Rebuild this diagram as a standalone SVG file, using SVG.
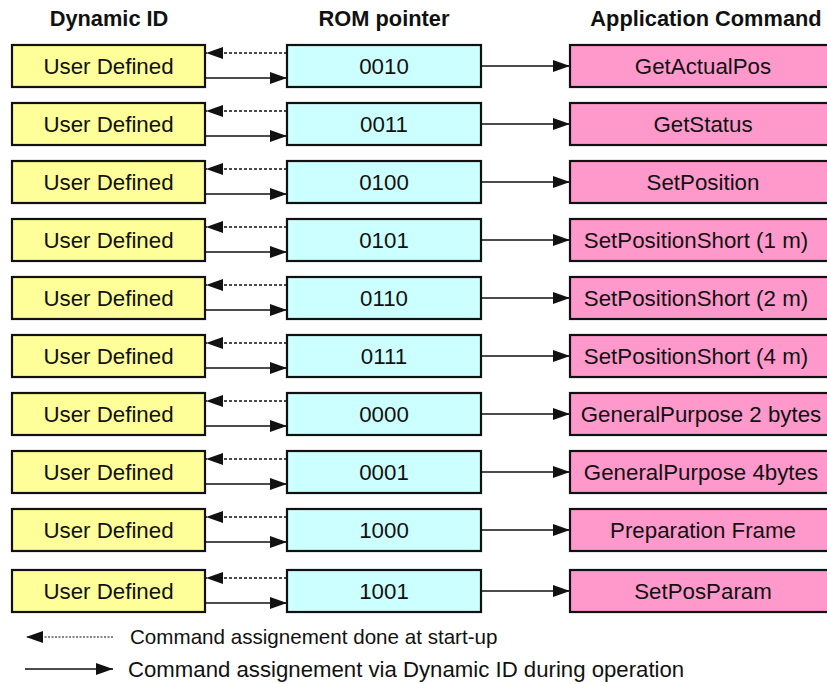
<svg xmlns="http://www.w3.org/2000/svg" width="827" height="684" viewBox="0 0 827 684">
<style>
text{font-family:"Liberation Sans",Arial,sans-serif;fill:#111;}
.hdr{font-size:21.8px;font-weight:bold;text-anchor:middle;}
.lbl{font-size:22.3px;text-anchor:middle;}
.leg{font-size:20.6px;}
.y{fill:#FFFF99;stroke:#111;stroke-width:2.2;}
.c{fill:#CCFFFF;stroke:#111;stroke-width:2.2;}
.p{fill:#FF99CC;stroke:#111;stroke-width:2.2;}
.s{stroke:#111;stroke-width:1.5;fill:none;marker-end:url(#ah);}
.d{stroke:#111;stroke-width:1.5;fill:none;stroke-dasharray:3 2;marker-end:url(#ah);}
</style>
<defs>
<marker id="ah" markerUnits="userSpaceOnUse" markerWidth="17" markerHeight="12" refX="17" refY="6" orient="auto">
<path d="M0,0 L17,6 L0,12 z" fill="#111"/>
</marker>
</defs>
<g id="headers">
<text class="hdr" x="109" y="26">Dynamic ID</text>
<text class="hdr" x="384" y="26">ROM pointer</text>
<text class="hdr" x="706" y="26">Application Command</text>
</g>
<g id="row1"><rect class="y" x="12" y="45" width="193" height="42"/><text class="lbl" x="108.5" y="74">User Defined</text><rect class="c" x="287" y="45" width="194" height="42"/><text class="lbl" x="384" y="74">0010</text><rect class="p" x="570" y="45" width="270" height="42"/><text class="lbl" x="703" y="74">GetActualPos</text></g>
<g id="row2"><rect class="y" x="12" y="103" width="193" height="42"/><text class="lbl" x="108.5" y="132">User Defined</text><rect class="c" x="287" y="103" width="194" height="42"/><text class="lbl" x="384" y="132">0011</text><rect class="p" x="570" y="103" width="270" height="42"/><text class="lbl" x="703" y="132">GetStatus</text></g>
<g id="row3"><rect class="y" x="12" y="161" width="193" height="42"/><text class="lbl" x="108.5" y="190">User Defined</text><rect class="c" x="287" y="161" width="194" height="42"/><text class="lbl" x="384" y="190">0100</text><rect class="p" x="570" y="161" width="270" height="42"/><text class="lbl" x="703" y="190">SetPosition</text></g>
<g id="row4"><rect class="y" x="12" y="219" width="193" height="42"/><text class="lbl" x="108.5" y="248">User Defined</text><rect class="c" x="287" y="219" width="194" height="42"/><text class="lbl" x="384" y="248">0101</text><rect class="p" x="570" y="219" width="270" height="42"/><text class="lbl" x="696" y="248">SetPositionShort (1 m)</text></g>
<g id="row5"><rect class="y" x="12" y="277" width="193" height="42"/><text class="lbl" x="108.5" y="306">User Defined</text><rect class="c" x="287" y="277" width="194" height="42"/><text class="lbl" x="384" y="306">0110</text><rect class="p" x="570" y="277" width="270" height="42"/><text class="lbl" x="696" y="306">SetPositionShort (2 m)</text></g>
<g id="row6"><rect class="y" x="12" y="335" width="193" height="42"/><text class="lbl" x="108.5" y="364">User Defined</text><rect class="c" x="287" y="335" width="194" height="42"/><text class="lbl" x="384" y="364">0111</text><rect class="p" x="570" y="335" width="270" height="42"/><text class="lbl" x="696" y="364">SetPositionShort (4 m)</text></g>
<g id="row7"><rect class="y" x="12" y="393" width="193" height="42"/><text class="lbl" x="108.5" y="422">User Defined</text><rect class="c" x="287" y="393" width="194" height="42"/><text class="lbl" x="384" y="422">0000</text><rect class="p" x="570" y="393" width="270" height="42"/><text class="lbl" x="701" y="422">GeneralPurpose 2 bytes</text></g>
<g id="row8"><rect class="y" x="12" y="451" width="193" height="42"/><text class="lbl" x="108.5" y="480">User Defined</text><rect class="c" x="287" y="451" width="194" height="42"/><text class="lbl" x="384" y="480">0001</text><rect class="p" x="570" y="451" width="270" height="42"/><text class="lbl" x="701" y="480">GeneralPurpose 4bytes</text></g>
<g id="row9"><rect class="y" x="12" y="509" width="193" height="42"/><text class="lbl" x="108.5" y="538">User Defined</text><rect class="c" x="287" y="509" width="194" height="42"/><text class="lbl" x="384" y="538">1000</text><rect class="p" x="570" y="509" width="270" height="42"/><text class="lbl" x="703" y="538">Preparation Frame</text></g>
<g id="row10"><rect class="y" x="12" y="570" width="193" height="42"/><text class="lbl" x="108.5" y="599">User Defined</text><rect class="c" x="287" y="570" width="194" height="42"/><text class="lbl" x="384" y="599">1001</text><rect class="p" x="570" y="570" width="270" height="42"/><text class="lbl" x="703" y="599">SetPosParam</text></g>
<g id="connectors">
<path class="d" d="M287,53 H206"/><path class="s" d="M205,78 H287"/><path class="s" d="M481,66 H570"/>
<path class="d" d="M287,111 H206"/><path class="s" d="M205,136 H287"/><path class="s" d="M481,124 H570"/>
<path class="d" d="M287,169 H206"/><path class="s" d="M205,194 H287"/><path class="s" d="M481,182 H570"/>
<path class="d" d="M287,227 H206"/><path class="s" d="M205,252 H287"/><path class="s" d="M481,240 H570"/>
<path class="d" d="M287,285 H206"/><path class="s" d="M205,310 H287"/><path class="s" d="M481,298 H570"/>
<path class="d" d="M287,343 H206"/><path class="s" d="M205,368 H287"/><path class="s" d="M481,356 H570"/>
<path class="d" d="M287,401 H206"/><path class="s" d="M205,426 H287"/><path class="s" d="M481,414 H570"/>
<path class="d" d="M287,459 H206"/><path class="s" d="M205,484 H287"/><path class="s" d="M481,472 H570"/>
<path class="d" d="M287,517 H206"/><path class="s" d="M205,542 H287"/><path class="s" d="M481,530 H570"/>
<path class="d" d="M287,578 H206"/><path class="s" d="M205,603 H287"/><path class="s" d="M481,591 H570"/>
</g>
<g id="legend">
<path d="M113,637 H26" stroke="#111" stroke-width="1.2" fill="none" stroke-dasharray="2 1.5" marker-end="url(#ah)"/>
<path d="M25,669 H113" stroke="#111" stroke-width="1.4" fill="none" marker-end="url(#ah)"/>
<text class="leg" x="130" y="644">Command assignement done at start-up</text>
<text class="leg" x="128" y="677" style="font-size:22.2px">Command assignement via Dynamic ID during operation</text>
</g>
</svg>
